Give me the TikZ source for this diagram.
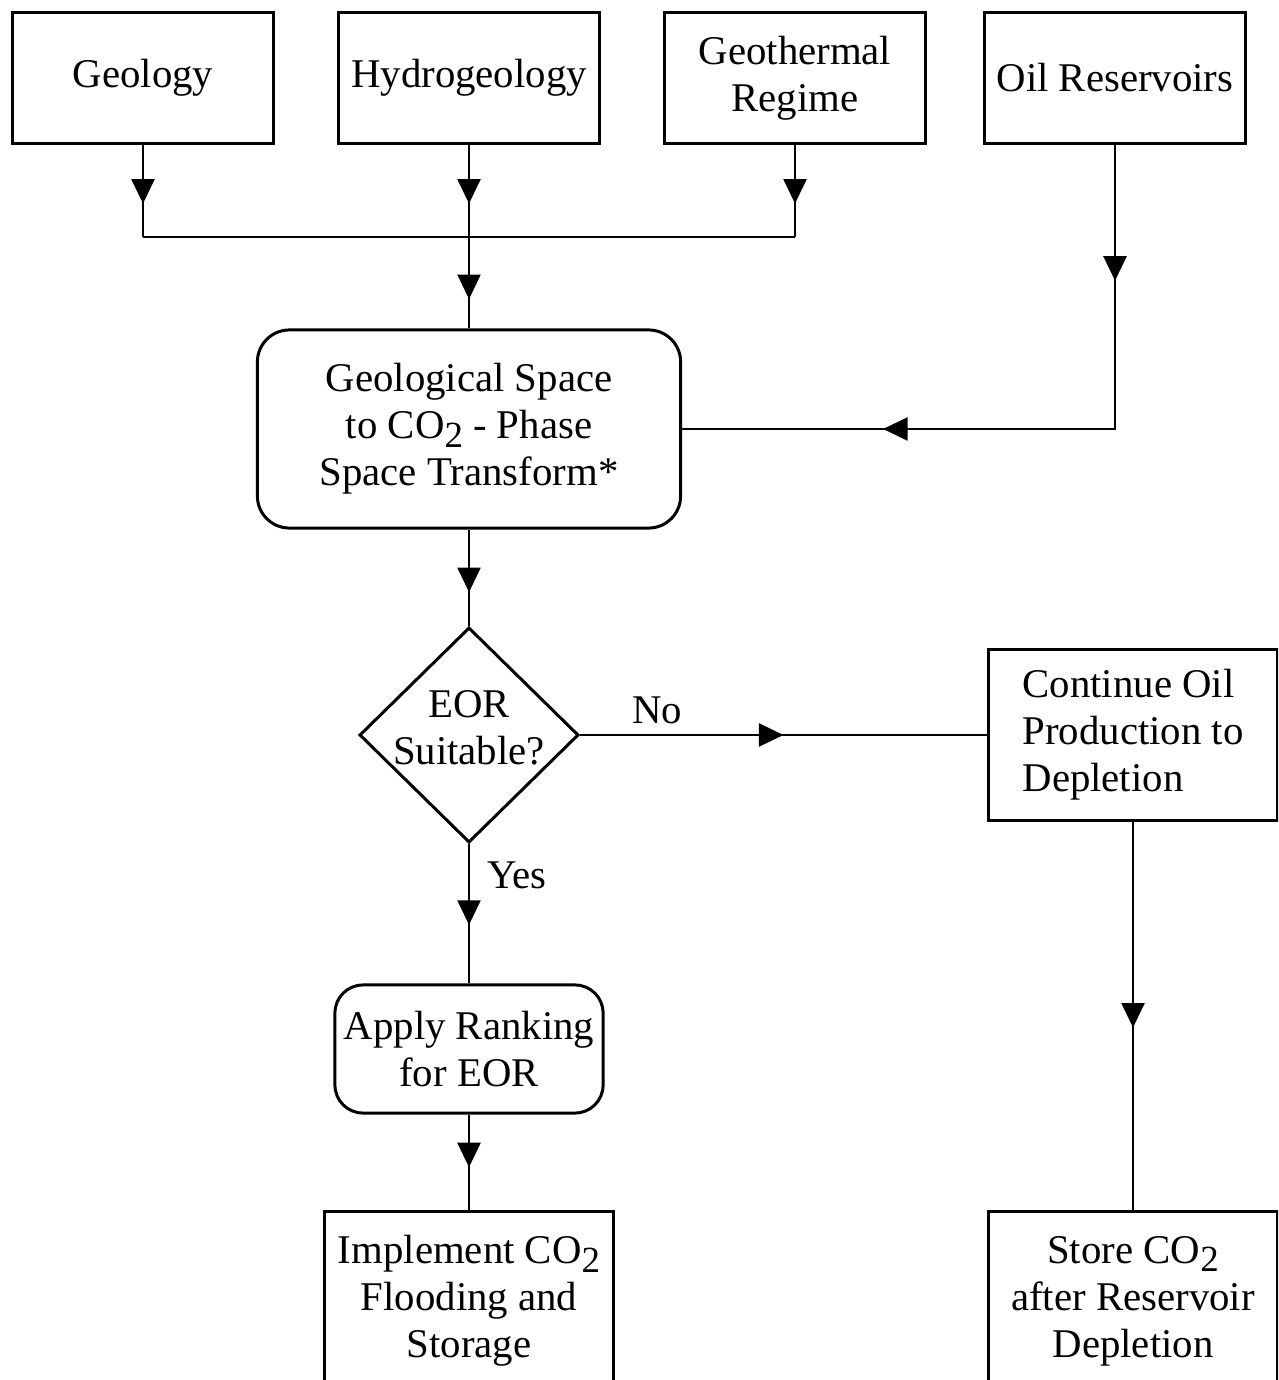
\documentclass[tikz,border=0pt]{standalone}
\usepackage{fontspec}
\setmainfont{Liberation Serif}
\usepackage{tikz}
\usetikzlibrary{arrows.meta, shapes.geometric}
\usetikzlibrary{decorations.markings}

\newcommand{\cotwo}{CO\raisebox{-0.45ex}{\fontsize{10.5}{12}\selectfont 2}}

\tikzset{
  box/.style={draw, line width=0.85pt, inner sep=0pt, align=center,
    minimum width=2.6cm, minimum height=1.3cm},
  rbox/.style={box, rounded corners=0.32cm},
  midarrow/.style={postaction={decorate, decoration={markings,
    mark=at position #1 with {\arrow{Triangle[length=7pt,width=6.5pt]}}}}},
  midarrow/.default=0.6
}

\begin{document}
\begin{tikzpicture}[x=0.01cm, y=-0.01cm, line width=0.8pt,
  font=\fontsize{11.6}{13.4}\selectfont]
\clip (0,0) rectangle (1278,1380);
\node[box] (A) at (143,78) {Geology};
\node[box] (B) at (469,78) {Hydrogeology};
\node[box] (C) at (795,78) {Geothermal\\Regime};
\node[box] (D) at (1115,78) {Oil Reservoirs};
\coordinate (J) at (469,237);
\coordinate (JA) at (143,237);
\coordinate (JC) at (795,237);
\node[rbox, minimum width=4.23cm, minimum height=1.98cm] (G) at (469,429)
  {Geological Space\\to \cotwo{} - Phase\\Space Transform*};
\node[draw, diamond, line width=0.85pt, inner sep=0pt, minimum width=2.19cm,
  minimum height=2.15cm] (Q) at (469,735) {};
\node[align=center] (Qt) at (469,728) {EOR\\Suitable?};
\node[box, align=left, minimum width=2.89cm, minimum height=1.7cm] (E) at (1133,735)
  {Continue Oil\\Production to\\Depletion};
\node[rbox, rounded corners=0.28cm, minimum width=2.68cm, minimum height=1.28cm] (R)
  at (469,1049) {Apply Ranking\\for EOR};
\node[box, minimum width=2.89cm, minimum height=1.78cm] (I) at (469,1301)
  {Implement \cotwo\\Flooding and\\Storage};
\node[box, minimum width=2.89cm, minimum height=1.78cm] (S) at (1133,1301)
  {Store \cotwo\\after Reservoir\\Depletion};
\node (No) at (657,710) {No};
\node (Yes) at (517,875) {Yes};
\draw[midarrow=0.64] (A) -- (JA);
\draw[midarrow=0.64] (B) -- (J);
\draw[midarrow=0.64] (C) -- (JC);
\draw (JA) -- (JC);
\draw[midarrow=0.68] (J) -- (G);
\draw[midarrow=0.19, midarrow=0.72] (D.south) |- (G.east);
\draw[midarrow=0.65] (G) -- (Q);
\draw[midarrow=0.5] (Q.east) -- (E.west);
\draw[midarrow=0.58] (Q) -- (R);
\draw[midarrow=0.55] (R) -- (I);
\draw[midarrow=0.53] (E) -- (S);
\end{tikzpicture}
\end{document}
